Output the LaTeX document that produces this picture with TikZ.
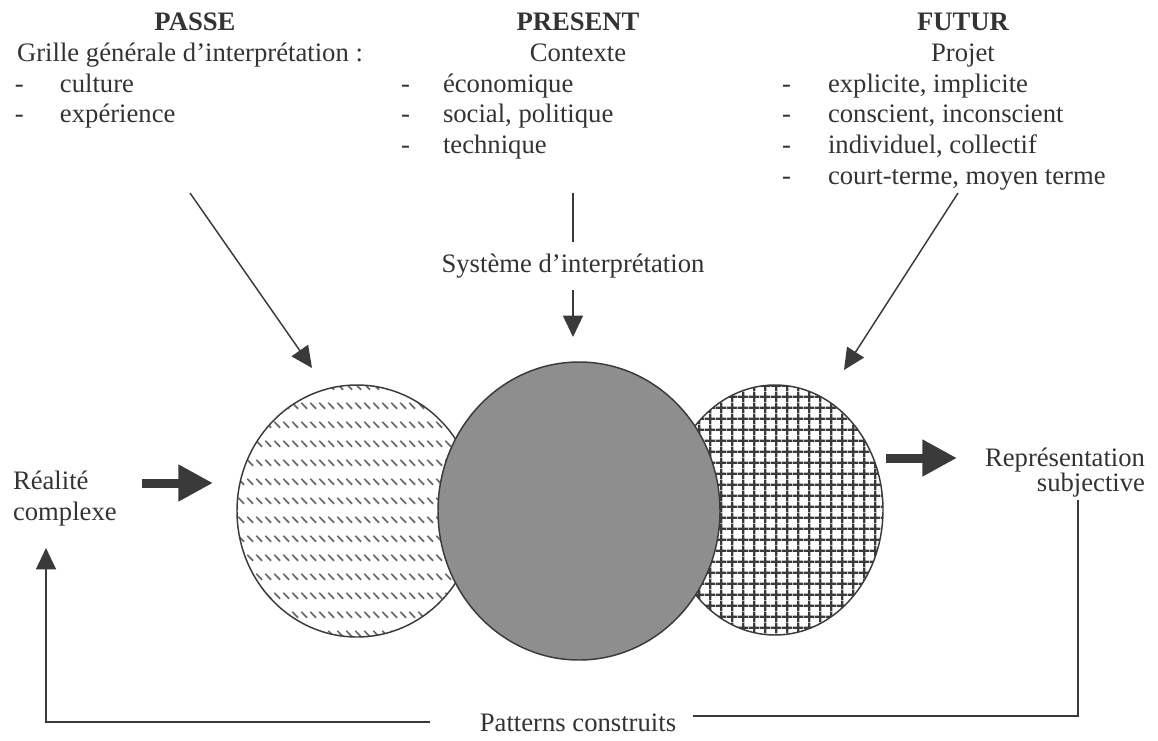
\documentclass[tikz,border=0pt]{standalone}
\usepackage{fontspec}
\setmainfont{Liberation Serif}
\usetikzlibrary{arrows.meta,patterns,shapes.geometric}
\definecolor{ink}{HTML}{333333}
\definecolor{ln}{HTML}{3A3A3A}
\definecolor{midfill}{HTML}{8E8E8E}
\definecolor{dashgray}{HTML}{6A6A6A}
\pgfdeclarepatternformonly{slashrows}{\pgfqpoint{0pt}{0pt}}{\pgfqpoint{6.6pt}{14.6pt}}{\pgfqpoint{6.6pt}{14.6pt}}{%
  \pgfsetlinewidth{1.3pt}%
  \pgfpathmoveto{\pgfqpoint{1pt}{9.4pt}}%
  \pgfpathlineto{\pgfqpoint{5.4pt}{4.8pt}}%
  \pgfusepath{stroke}}
\pgfdeclarepatternformonly{gridcells}{\pgfqpoint{0pt}{0pt}}{\pgfqpoint{8pt}{8pt}}{\pgfqpoint{8pt}{8pt}}{%
  \pgfsetlinewidth{1.8pt}%
  \pgfpathmoveto{\pgfqpoint{0pt}{4pt}}\pgfpathlineto{\pgfqpoint{8pt}{4pt}}%
  \pgfpathmoveto{\pgfqpoint{4pt}{0pt}}\pgfpathlineto{\pgfqpoint{4pt}{8pt}}%
  \pgfusepath{stroke}}
\tikzset{
  txt/.style={inner sep=0pt, outer sep=0pt, text=ink},
  thinarrow/.style={draw=ln, line width=1.1pt, -{Triangle[length=16pt,width=15pt]}},
  fatarrow/.style={draw=ln, line width=6.75pt, -{Triangle[length=26pt,width=26pt]}},
  thinline/.style={draw=ln, line width=1.1pt},
  disc/.style={ellipse, draw=ln, line width=1.1pt, inner sep=0pt},
}
\begin{document}
\begin{tikzpicture}[x=0.75pt,y=-0.75pt, font=\fontsize{20}{23}\selectfont]
\useasboundingbox (0,0) rectangle (1158,740);

% ---- PASSE column
\node[txt, anchor=base, font=\fontsize{20}{23}\selectfont\bfseries] (passe) at (195,30) {PASSE};
\node[txt, anchor=base] (grille) at (190,61) {Grille générale d’interprétation :};
\node[txt, anchor=base west] (pd1) at (15,92) {-};
\node[txt, anchor=base west] (p1) at (60,92) {culture};
\node[txt, anchor=base west] (pd2) at (15,122) {-};
\node[txt, anchor=base west] (p2) at (60,122) {expérience};

% ---- PRESENT column
\node[txt, anchor=base, font=\fontsize{20}{23}\selectfont\bfseries] (present) at (578,30) {PRESENT};
\node[txt, anchor=base] (contexte) at (578,61) {Contexte};
\node[txt, anchor=base west] (cd1) at (401,92) {-};
\node[txt, anchor=base west] (c1) at (443,92) {économique};
\node[txt, anchor=base west] (cd2) at (401,122) {-};
\node[txt, anchor=base west] (c2) at (443,122) {social, politique};
\node[txt, anchor=base west] (cd3) at (401,153) {-};
\node[txt, anchor=base west] (c3) at (443,153) {technique};

% ---- FUTUR column
\node[txt, anchor=base, font=\fontsize{20}{23}\selectfont\bfseries] (futur) at (963,30) {FUTUR};
\node[txt, anchor=base] (projet) at (963,61) {Projet};
\node[txt, anchor=base west] (fd1) at (782,92) {-};
\node[txt, anchor=base west] (f1) at (828,92) {explicite, implicite};
\node[txt, anchor=base west] (fd2) at (782,122) {-};
\node[txt, anchor=base west] (f2) at (828,122) {conscient, inconscient};
\node[txt, anchor=base west] (fd3) at (782,153) {-};
\node[txt, anchor=base west] (f3) at (828,153) {individuel, collectif};
\node[txt, anchor=base west] (fd4) at (782,184) {-};
\node[txt, anchor=base west] (f4) at (828,184) {court-terme, moyen terme};

% ---- middle label
\node[txt, anchor=base] (systeme) at (573,272) {Système d’interprétation};

% ---- circles (middle one on top)
\node[disc, minimum width=180pt, minimum height=189pt, pattern=slashrows, pattern color=dashgray] (cpasse) at (357,511) {};
\node[disc, minimum width=162pt, minimum height=187.5pt, pattern=gridcells, pattern color=ln] (cfutur) at (775,510) {};
\node[disc, minimum width=211.5pt, minimum height=223.5pt, fill=midfill] (cpresent) at (579,511) {};

% ---- side labels
\node[txt, anchor=base west] (realite) at (13,489) {Réalité};
\node[txt, anchor=base west] (complexe) at (13,520) {complexe};
\node[txt, anchor=base east] (repres) at (1145,466) {Représentation};
\node[txt, anchor=base east] (subj) at (1145,491) {subjective};
\node[txt, anchor=base] (patterns) at (578,731) {Patterns construits};

% ---- coordinates
\coordinate (pa0) at (190,193);
\coordinate (pa1) at (312,368);
\coordinate (pr0) at (573,193);
\coordinate (pr1) at (573,242);
\coordinate (pr2) at (573,290);
\coordinate (pr3) at (573,337);
\coordinate (fu0) at (958,193);
\coordinate (fu1) at (844,370);
\coordinate (re0) at (142,483);
\coordinate (re1) at (213,483);
\coordinate (rs0) at (886,458);
\coordinate (rs1) at (957,458);
\coordinate (sb) at (1078,500);
\coordinate (sc) at (1078,716);
\coordinate (pr) at (693,716);
\coordinate (pl) at (430,722);
\coordinate (lc) at (46,722);
\coordinate (lt) at (46,548);

% ---- connectors
\draw[thinarrow] (pa0) -- (pa1);
\draw[thinline] (pr0) -- (pr1);
\draw[thinarrow] (pr2) -- (pr3);
\draw[thinarrow] (fu0) -- (fu1);
\draw[fatarrow] (re0) -- (re1);
\draw[fatarrow] (rs0) -- (rs1);
\draw[thinline] (sb) -- (sc) -- (pr);
\draw[thinarrow] (pl) -- (lc) -- (lt);
\end{tikzpicture}
\end{document}
